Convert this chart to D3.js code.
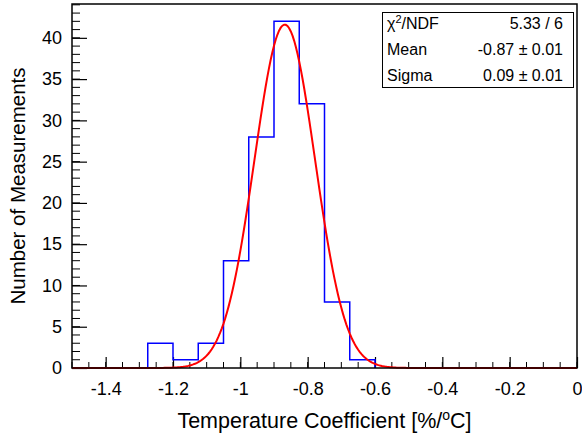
<!DOCTYPE html>
<html>
<head>
<meta charset="utf-8">
<script src="https://cdn.jsdelivr.net/npm/d3@7"></script>
<style>
  body { margin: 0; background: #fff; }
  svg { display: block; }
  text { font-family: "Liberation Sans", Arial, Helvetica, sans-serif; fill: #000; }
</style>
</head>
<body>
<div id="chart"></div>
<script>
// histogram bins (edges) and counts
var binEdges = [-1.275, -1.2, -1.125, -1.05, -0.975, -0.9, -0.825, -0.75, -0.675, -0.6];
var binCounts = [3, 1, 3, 13, 28, 42, 32, 8, 1];

// gaussian fit parameters
var fitConst = 41.6,
    fitMean = -0.868,
    fitSigma = 0.09;

// axis ticks
var xTicks = [-1.4, -1.2, -1, -0.8, -0.6, -0.4, -0.2, 0];
var yTicks = [0, 5, 10, 15, 20, 25, 30, 35, 40];

// stats box rows
var statNames = ['NDF', 'Mean', 'Sigma'];
var statValues = ['5.33 / 6', '-0.87 \u00b1 0.01', '0.09 \u00b1 0.01'];

function drawChart() {
    var svgWidth = 582,
        svgHeight = 435;
    // 图框位置
    var leftMove = 72, rightEdge = 577, topMove = 4, bottomEdge = 368;
    var labelFont = '18px';

    var svg = d3.select('#chart')
        .append('svg')
        .attr('width', svgWidth)
        .attr('height', svgHeight);

    var x = d3.scaleLinear().domain([-1.5, 0]).range([leftMove, rightEdge]);
    var y = d3.scaleLinear().domain([0, 44.1]).range([bottomEdge, topMove]);

    // x minor ticks every 0.05
    var xMinor = d3.range(0, 31).map(function(i) { return -1.5 + i * 0.05; });
    svg.append('g').classed('x-minor', true)
        .selectAll('line')
        .data(xMinor)
        .enter()
        .append('line')
        .attr('x1', function(d) { return x(d); })
        .attr('x2', function(d) { return x(d); })
        .attr('y1', bottomEdge)
        .attr('y2', bottomEdge - 6)
        .style('stroke', '#000')
        .style('stroke-width', 1);

    var xAxis = d3.axisTop(x)
        .tickValues(xTicks)
        .tickSizeInner(11)
        .tickSizeOuter(0)
        .tickFormat(function(d) { return String(d); });
    var gx = svg.append('g')
        .classed('xaxis', true)
        .attr('transform', 'translate(0,' + bottomEdge + ')')
        .call(xAxis);
    gx.select('.domain').remove();
    gx.selectAll('.tick line').style('stroke', '#000').style('stroke-width', 1.2);
    gx.selectAll('.tick text')
        .attr('y', 27)
        .attr('dy', 0)
        .style('font-size', labelFont)
        .style('font-family', '"Liberation Sans", Arial, sans-serif');

    // y minor ticks every 1
    var yMinor = d3.range(0, 45, 1);
    svg.append('g').classed('y-minor', true)
        .selectAll('line')
        .data(yMinor)
        .enter()
        .append('line')
        .attr('x1', leftMove)
        .attr('x2', leftMove + 8)
        .attr('y1', function(d) { return y(d); })
        .attr('y2', function(d) { return y(d); })
        .style('stroke', '#000')
        .style('stroke-width', 1);

    var yAxis = d3.axisRight(y)
        .tickValues(yTicks)
        .tickSizeInner(15)
        .tickSizeOuter(0);
    var gy = svg.append('g')
        .classed('yaxis', true)
        .attr('transform', 'translate(' + leftMove + ',0)')
        .call(yAxis);
    gy.select('.domain').remove();
    gy.selectAll('.tick line').style('stroke', '#000').style('stroke-width', 1.2);
    gy.selectAll('.tick text')
        .attr('x', -10)
        .attr('text-anchor', 'end')
        .style('font-size', labelFont)
        .style('font-family', '"Liberation Sans", Arial, sans-serif');

    // histogram outline
    var histPts = [[binEdges[0], 0]];
    binCounts.forEach(function(c, i) {
        histPts.push([binEdges[i], c]);
        histPts.push([binEdges[i + 1], c]);
    });
    histPts.push([binEdges[binEdges.length - 1], 0]);
    svg.append('path')
        .classed('hist', true)
        .datum(histPts)
        .attr('d', d3.line()
            .x(function(d) { return x(d[0]); })
            .y(function(d) { return y(d[1]); }))
        .style('fill', 'none')
        .style('stroke', '#0000ff')
        .style('stroke-width', 1.5);

    // fit curve
    var fitX = d3.range(0, 301).map(function(i) { return -1.5 + i * 0.005; });
    svg.append('path')
        .classed('fit', true)
        .datum(fitX)
        .attr('d', d3.line()
            .x(function(d) { return x(d); })
            .y(function(d) {
                var z = (d - fitMean) / fitSigma;
                return y(fitConst * Math.exp(-0.5 * z * z));
            }))
        .style('fill', 'none')
        .style('stroke', '#ff0000')
        .style('stroke-width', 2);

    // frame
    svg.append('rect')
        .attr('x', leftMove)
        .attr('y', topMove)
        .attr('width', rightEdge - leftMove)
        .attr('height', bottomEdge - topMove)
        .style('fill', 'none')
        .style('stroke', '#000')
        .style('stroke-width', 1.5);

    // axis titles
    svg.append('text')
        .attr('x', (leftMove + rightEdge) / 2)
        .attr('y', 428)
        .attr('text-anchor', 'middle')
        .style('font-size', '21.5px')
        .html('Temperature Coefficient [%/<tspan dy="-8" font-size="14px">o</tspan><tspan dy="8">C]</tspan>');

    svg.append('text')
        .attr('transform', 'translate(25,' + (topMove + bottomEdge) / 2 + ') rotate(-90)')
        .attr('text-anchor', 'middle')
        .style('font-size', '20.5px')
        .text('Number of Measurements');

    // stats box
    var box = svg.append('g').classed('stats', true);
    box.append('rect')
        .attr('x', 382.5)
        .attr('y', 12.5)
        .attr('width', 191)
        .attr('height', 75)
        .style('fill', '#fff')
        .style('stroke', '#000')
        .style('stroke-width', 1);
    var rowY = [29, 55, 81];
    statNames.forEach(function(name, i) {
        var t = box.append('text')
            .attr('x', 387)
            .attr('y', rowY[i])
            .style('font-size', '16px');
        if (i == 0) {
            t.html('\u03c7<tspan dy="-6" font-size="11px">2</tspan><tspan dy="6">/' + name + '</tspan>');
        } else {
            t.text(name);
        }
        box.append('text')
            .attr('x', 563)
            .attr('y', rowY[i])
            .attr('text-anchor', 'end')
            .style('font-size', '16px')
            .text(statValues[i]);
    });
}

drawChart();
</script>
</body>
</html>
